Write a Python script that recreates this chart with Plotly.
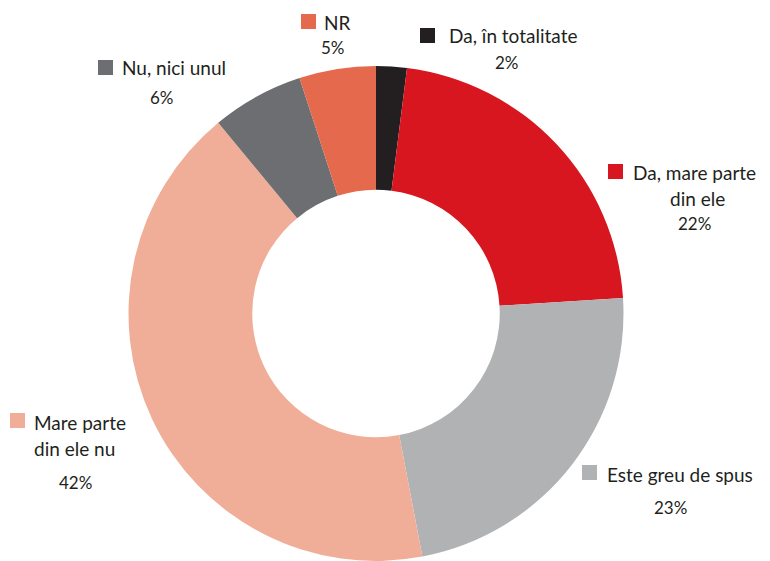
import plotly.graph_objects as go

categories = ["Da, în totalitate", "Da, mare parte din ele", "Este greu de spus",
              "Mare parte din ele nu", "Nu, nici unul", "NR"]
values = [2, 22, 23, 42, 6, 5]
colors = ["#231F20", "#D7161F", "#B1B2B4", "#F0AE98", "#6D6E71", "#E5694C"]
label_lines = [["Da, în totalitate"], ["Da, mare parte", "din ele"], ["Este greu de spus"],
               ["Mare parte", "din ele nu"], ["Nu, nici unul"], ["NR"]]

# the page body has an 8px margin; size the figure so it fits the 770x561 window
OFF = 8
W, H = 770 - OFF, 561 - OFF

def px(x):
    return (x - OFF) / W

def py(y):
    return 1 - (y - OFF) / H

fig = go.Figure(go.Pie(
    values=values, labels=categories, marker=dict(colors=colors, line=dict(width=0)),
    hole=0.5, sort=False, direction="clockwise", rotation=0,
    textinfo="none", hoverinfo="label+percent", showlegend=False,
    domain=dict(x=[px(128), px(624)], y=[0, min(1, py(66))]),
))

# label layout (reference pixel positions): square left/top, text lines (x, y_center), pct center
layout_px = [
    dict(sq=(420, 28), lines=[(447, 35)], pct=(507, 62), center_lines=False),
    dict(sq=(608, 164), lines=[(631, 173), (697, 198)], pct=(694, 223), center_lines=True),
    dict(sq=(582, 465), lines=[(605, 474)], pct=(670, 507), center_lines=False),
    dict(sq=(10, 413), lines=[(32, 422), (32, 448)], pct=(75, 482), center_lines=False),
    dict(sq=(98, 60), lines=[(120, 67)], pct=(162, 97), center_lines=False),
    dict(sq=(301, 14), lines=[(322, 22)], pct=(333, 47), center_lines=False),
]

total = sum(values)
font = "Lato"
shapes = []
annotations = []
for cat_lines, val, col, lp in zip(label_lines, values, colors, layout_px):
    sx, sy = lp["sq"]
    shapes.append(dict(type="rect", xref="paper", yref="paper",
                       x0=px(sx), x1=px(sx + 15), y0=py(sy + 15), y1=py(sy),
                       fillcolor=col, line=dict(width=0)))
    for i, (line, (lx, ly)) in enumerate(zip(cat_lines, lp["lines"])):
        centered = lp["center_lines"] and i > 0
        annotations.append(dict(text=line, xref="paper", yref="paper",
                                x=px(lx), y=py(ly), showarrow=False,
                                xanchor="center" if centered else "left", yanchor="middle",
                                font=dict(family=font, size=19, color="#231F20")))
    cx, cy = lp["pct"]
    annotations.append(dict(text=f"{round(val / total * 100)}%", xref="paper", yref="paper",
                            x=px(cx), y=py(cy), showarrow=False,
                            xanchor="center", yanchor="middle",
                            font=dict(family=font, size=17, color="#231F20")))

fig.update_layout(width=W, height=H, margin=dict(l=0, r=0, t=0, b=0),
                  paper_bgcolor="white", plot_bgcolor="white",
                  shapes=shapes, annotations=annotations)
fig.write_html("out.html")
